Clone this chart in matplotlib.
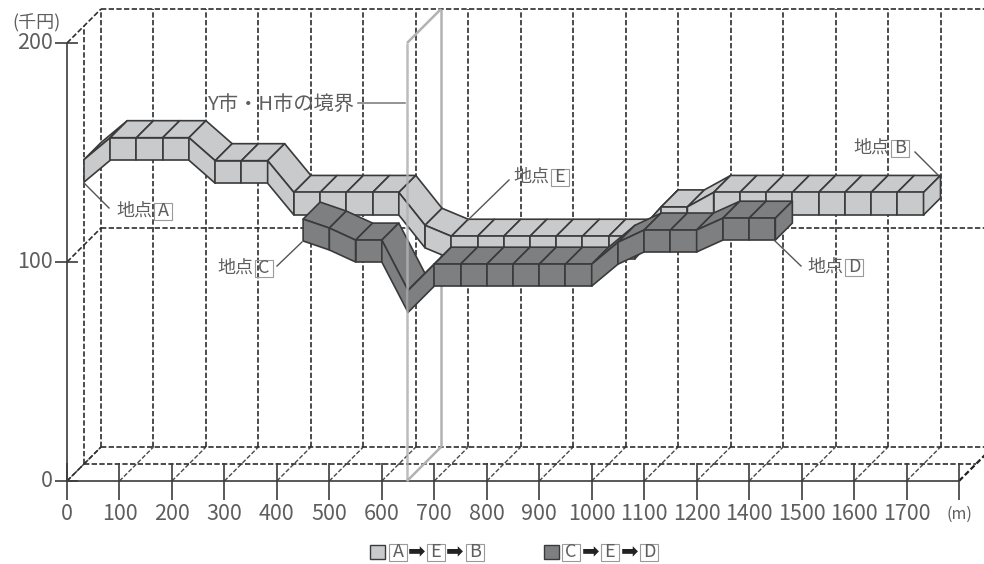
import matplotlib
matplotlib.use("Agg")
import matplotlib.pyplot as plt
from matplotlib.patches import Rectangle
from matplotlib.transforms import Affine2D

# ---- data -----------------------------------------------------------
x_tick_labels = ["0", "100", "200", "300", "400", "500", "600", "700", "800", "900",
                 "1000", "1100", "1200", "1400", "1500", "1600", "1700"]
y_ticks = [0, 100, 200]
light_start = 0
light_values = [139, 149, 149, 149, 149, 138.5, 138.5, 138.5, 124, 124, 124, 124, 124,
                109, 104, 104, 104, 104, 104, 104, 104, 104, 117.4, 117.4,
                124, 124, 124, 124, 124, 124, 124, 124, 124]
dark_start = 450
dark_values = [119.6, 115.5, 110, 110, 87, 99, 99, 99, 99, 99, 99, 99,
               109, 114.6, 114.6, 114.6, 120, 120, 120]
step = 50
light_thick = 10.3
dark_thick = 10
border_m = 648
axis_end = 1700

# ---- look -----------------------------------------------------------
W, H = 984, 564
X0, Y0 = 67, 481
SX, SY = 0.5247, 2.19
DEPTH_PX = 17
DX, DY = DEPTH_PX / SX, DEPTH_PX / SY
INK = "#3a3a3a"
TXT = "#5e5e5e"
GREY = "#b2b2b2"
LIGHT = "#c9cacb"
DARK = "#7e7f81"
FONT = ["Noto Sans CJK JP", "DejaVu Sans"]
plt.rcParams["font.family"] = FONT

fig = plt.figure(figsize=(W / 100, H / 100), dpi=100)
ax = fig.add_axes([0, 0, 1, 1])
ax.set_xlim(-X0 / SX, (W - X0) / SX)
ax.set_ylim(-(H - Y0) / SY, Y0 / SY)
ax.axis("off")
px = Affine2D().scale(1, -1).translate(0, H)


def P(m, v, d=0):
    return m + DX * d, v + DY * d


def seg(a, b, **kw):
    ax.plot([a[0], b[0]], [a[1], b[1]], **kw)


dash = dict(color="#2e2e2e", lw=1.2, linestyle=(0, (3.2, 1.4)), solid_capstyle="butt")
thin = dict(color="#4a4a4a", lw=1.0, linestyle=(0, (3.2, 1.4)))
solid = dict(color="#3c3c3c", lw=1.2, solid_capstyle="butt")

ymax = 200
right = (W - X0) / SX + 20
# back wall verticals and horizontals
for k in range(len(x_tick_labels)):
    m = k * 100
    seg(P(m, 0, 2), P(m, ymax, 2), zorder=1, **dash)
    seg(P(m, 0, 0), P(m, 0, 2), zorder=1, **thin)
seg(P(axis_end, 0, 0), P(axis_end, 0, 2), zorder=1, color="#222222", lw=1.6,
    linestyle=(0, (2.5, 1.2)))
seg(P(0, 0, 1), P(0, ymax, 1), zorder=1, **dash)
for v in y_ticks:
    seg(P(0, v, 0), P(0, v, 2), zorder=1, **dash)
    seg(P(0, v, 2), (right, P(0, v, 2)[1]), zorder=1, **dash)
seg(P(0, 0, 1), P(axis_end, 0, 1), zorder=1, **dash)
# front axis
seg(P(0, 0), P(0, ymax), zorder=2, **solid)
seg(P(0, 0), P(axis_end, 0), zorder=2, **solid)
tick_up = 18 / SY
tick_dn = 19 / SY
for k in range(len(x_tick_labels) + 1):
    m = k * 100
    seg((m, tick_up), (m, -tick_dn), zorder=2, **solid)
for v in y_ticks:
    seg((-12 / SX, v), (11 / SX, v), zorder=2, **solid)

# border wall: back edge lies behind the ribbons
wall = dict(color=GREY, lw=1.8, solid_capstyle="butt")
seg(P(border_m, 0, 2), P(border_m, ymax, 2), zorder=3, **wall)
seg(P(border_m, ymax, 0), P(border_m, ymax, 2), zorder=3, **wall)
seg(P(border_m, 0, 0), P(border_m, 0, 2), zorder=3, **wall)


def ribbon(start, values, thick, d0, color, z):
    n = len(values)
    kw = dict(facecolor=color, edgecolor=INK, linewidth=1.2, joinstyle="round")
    for i in range(n - 1):
        m0, m1 = start + i * step, start + (i + 1) * step
        v0, v1 = values[i], values[i + 1]
        top = [P(m0, v0, d0), P(m1, v1, d0), P(m1, v1, d0 + 1), P(m0, v0, d0 + 1)]
        ax.fill(*zip(*top), zorder=z, **kw)
        z += 0.001
        front = [P(m0, v0, d0), P(m1, v1, d0), P(m1, v1 - thick, d0), P(m0, v0 - thick, d0)]
        ax.fill(*zip(*front), zorder=z, **kw)
        z += 0.001
    m, v = start + (n - 1) * step, values[-1]
    cap = [P(m, v, d0), P(m, v, d0 + 1), P(m, v - thick, d0 + 1), P(m, v - thick, d0)]
    ax.fill(*zip(*cap), zorder=z, **kw)


ribbon(light_start, light_values, light_thick, 1, LIGHT, 4)
ribbon(dark_start, dark_values, dark_thick, 0, DARK, 5)

# border wall: front edge passes over the ribbons
seg(P(border_m, 0, 0), P(border_m, ymax, 0), zorder=6, alpha=0.85, **wall)

# ---- text -----------------------------------------------------------
for k, lab in enumerate(x_tick_labels):
    ax.text(X0 + k * 52.47, 514, lab, transform=px, ha="center", va="center",
            fontsize=15.5, color=TXT, family=FONT)
for v in y_ticks:
    ax.text(53, Y0 - v * SY, str(v), transform=px, ha="right", va="center",
            fontsize=15.5, color=TXT, family=FONT)
ax.text(959, 514, "(m)", transform=px, ha="center", va="center", fontsize=11.5, color=TXT, family=FONT)
ax.text(36, 23, "(千円)", transform=px, ha="center", va="center", fontsize=13, color=TXT, family=FONT)


def boxed(x, y, letter, size=13):
    ax.add_patch(Rectangle((x - 9, y - 8.5), 18, 17, transform=px, facecolor="none",
                           edgecolor="#9a9a9a", lw=0.8, zorder=8))
    ax.text(x, y, letter, transform=px, ha="center", va="center", fontsize=size, color=TXT,
            family=FONT, zorder=8)


labels = [("A", 116, 211), ("C", 217, 268), ("E", 513, 177), ("B", 853, 148), ("D", 807, 267)]
for letter, x, y in labels:
    ax.text(x, y, "地点", transform=px, ha="left", va="center", fontsize=13, color=TXT,
            family=FONT, zorder=8)
    boxed(x + 47, y, letter)

leaders = [((84, 183), (109, 208)), ((277, 266), (302, 242)), ((468, 220), (509, 180)),
           ((938, 175), (915, 152)), ((775, 241), (801, 266))]
for a, b in leaders:
    ax.plot([a[0], b[0]], [a[1], b[1]], transform=px, color="#555555", lw=1.0, zorder=7)
ax.plot([358, 405], [103, 103], transform=px, color="#777777", lw=1.1, zorder=3)
ax.text(208, 104, "Y市・H市の境界", transform=px, ha="left", va="center", fontsize=14.6,
        color=TXT, family=FONT, zorder=8)

# legend
ax.add_patch(Rectangle((370, 545), 15, 14, transform=px, facecolor=LIGHT, edgecolor=INK, lw=1.0))
ax.add_patch(Rectangle((544, 545), 15, 14, transform=px, facecolor=DARK, edgecolor=INK, lw=1.0))
for x, letter in [(398, "A"), (436, "E"), (475, "B"), (571, "C"), (610, "E"), (649, "D")]:
    boxed(x, 552, letter)
for x in [417, 455, 591, 630]:
    ax.text(x, 552, "➡", transform=px, ha="center", va="center", fontsize=15, color="#222222",
            family=["DejaVu Sans"])

fig.savefig("out.png", dpi=100)
